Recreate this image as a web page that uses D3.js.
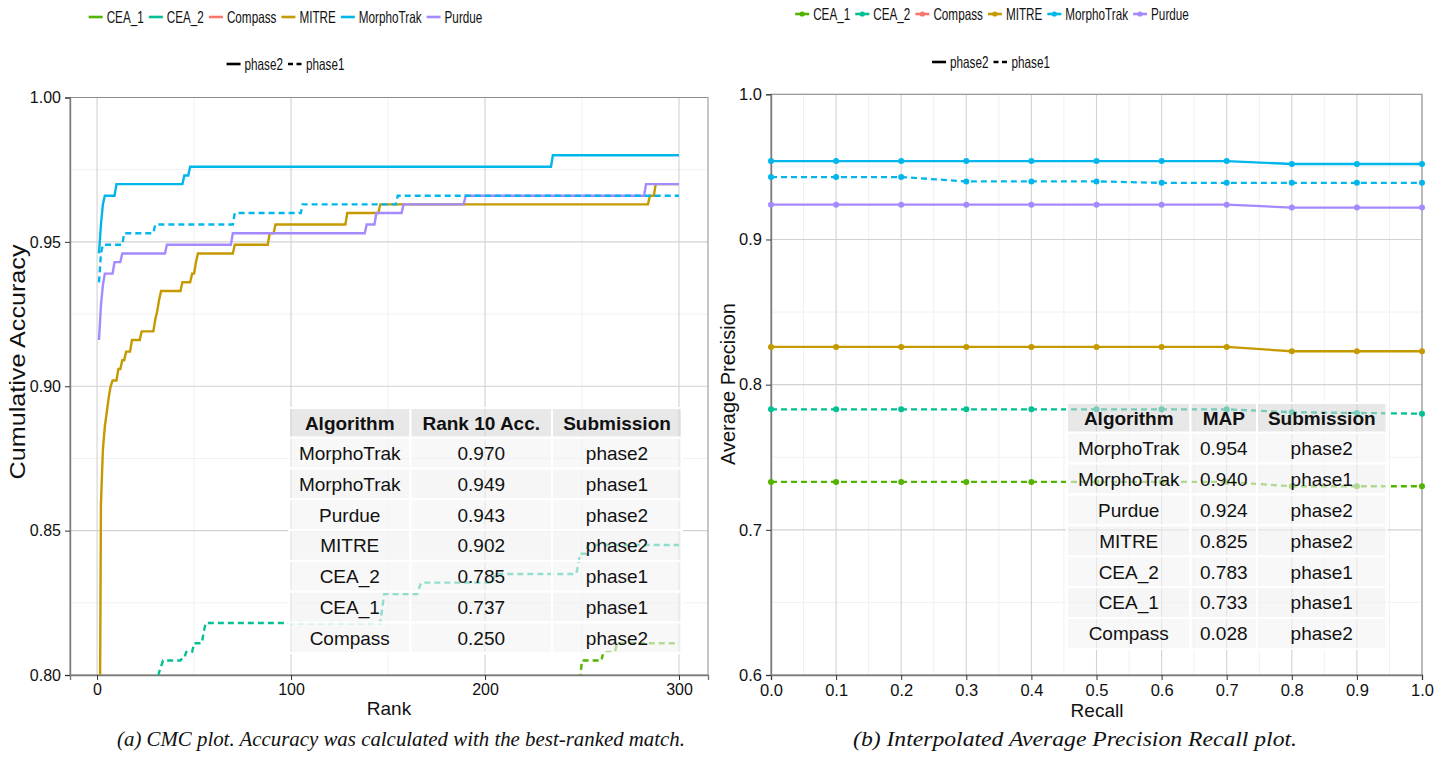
<!DOCTYPE html>
<html lang="en">
<head>
<meta charset="UTF-8">
<title>CMC and interpolated precision-recall</title>
<script src="https://cdn.jsdelivr.net/npm/d3@7/dist/d3.min.js"></script>
<style>
    body { margin: 0; background: #fff; }
    svg text { font-family: "Liberation Sans", Arial, Helvetica, sans-serif; fill: #111; }
    .grid-major line { stroke: #d2d2d2; stroke-width: 1.1px; }
    .grid-minor line { stroke: #f1f1f1; stroke-width: 1px; }
    .tick line { stroke: #333; }
    .caption { font-family: "Liberation Serif", "DejaVu Serif", serif; font-style: italic; }
</style>
</head>
<body>
<script>
    // legend groups
    const algorithms = ['CEA_1', 'CEA_2', 'Compass', 'MITRE', 'MorphoTrak', 'Purdue'];
    const algoColors = ['#53B400', '#00C094', '#F8766D', '#C49A00', '#00B6EB', '#A58AFF'];
    const phases = ['phase2', 'phase1'];

    // CMC: [rank, accuracy] where the curve changes value
    const cmcMorphoTrak2 = [[1, 0.946], [2, 0.956], [3, 0.963], [4, 0.966], [10, 0.970], [45, 0.973], [48, 0.976], [235, 0.980], [300, 0.980]];
    const cmcMorphoTrak1 = [[1, 0.936], [2, 0.946], [3, 0.949], [14, 0.953], [30, 0.956], [71, 0.960], [106, 0.963], [155, 0.966], [300, 0.966]];
    const cmcPurdue2 = [[1, 0.916], [2, 0.928], [3, 0.935], [4, 0.939], [9, 0.943], [13, 0.946], [36, 0.949], [70, 0.953], [139, 0.956], [144, 0.960], [158, 0.963], [190, 0.966], [283, 0.970], [300, 0.970]];
    const cmcMITRE2 = [[1, 0.720], [2, 0.859], [3, 0.878], [4, 0.886], [5, 0.891], [6, 0.896], [7, 0.900], [8, 0.902], [11, 0.906], [13, 0.909], [15, 0.912], [18, 0.916], [23, 0.919], [30, 0.923], [31, 0.926], [32, 0.930], [33, 0.933], [44, 0.936], [49, 0.939], [51, 0.943], [52, 0.946], [71, 0.949], [89, 0.953], [92, 0.956], [129, 0.960], [146, 0.963], [285, 0.966], [288, 0.970], [300, 0.970]];
    const cmcCEA2_1 = [[30, 0.797], [32, 0.801], [33, 0.803], [34, 0.805], [44, 0.806], [46, 0.808], [50, 0.811], [55, 0.815], [56, 0.818], [147, 0.823], [148, 0.828], [166, 0.830], [167, 0.832], [205, 0.835], [248, 0.838], [249, 0.842], [253, 0.845], [300, 0.845]];
    const cmcCEA1_1 = [[248, 0.799], [250, 0.805], [261, 0.808], [268, 0.811], [300, 0.811]];

    // interpolated average precision at each recall level
    const recall = [0.0, 0.1, 0.2, 0.3, 0.4, 0.5, 0.6, 0.7, 0.8, 0.9, 1.0];
    const apMorphoTrak2 = [0.954, 0.954, 0.954, 0.954, 0.954, 0.954, 0.954, 0.954, 0.952, 0.952, 0.952];
    const apMorphoTrak1 = [0.943, 0.943, 0.943, 0.940, 0.940, 0.940, 0.939, 0.939, 0.939, 0.939, 0.939];
    const apPurdue2 = [0.924, 0.924, 0.924, 0.924, 0.924, 0.924, 0.924, 0.924, 0.922, 0.922, 0.922];
    const apMITRE2 = [0.826, 0.826, 0.826, 0.826, 0.826, 0.826, 0.826, 0.826, 0.823, 0.823, 0.823];
    const apCEA2_1 = [0.783, 0.783, 0.783, 0.783, 0.783, 0.783, 0.783, 0.783, 0.781, 0.7805, 0.780];
    const apCEA1_1 = [0.733, 0.733, 0.733, 0.733, 0.733, 0.733, 0.733, 0.733, 0.730, 0.730, 0.730];

    // tables
    const tableAlgo = ['MorphoTrak', 'MorphoTrak', 'Purdue', 'MITRE', 'CEA_2', 'CEA_1', 'Compass'];
    const tableSub = ['phase2', 'phase1', 'phase2', 'phase2', 'phase1', 'phase1', 'phase2'];
    const rank10Acc = ['0.970', '0.949', '0.943', '0.902', '0.785', '0.737', '0.250'];
    const mapValues = ['0.954', '0.940', '0.924', '0.825', '0.783', '0.733', '0.028'];

    // ticks
    const cmcXTicks = [0, 100, 200, 300];
    const cmcYTicks = [0.80, 0.85, 0.90, 0.95, 1.00];
    const prXTicks = [0.0, 0.1, 0.2, 0.3, 0.4, 0.5, 0.6, 0.7, 0.8, 0.9, 1.0];
    const prYTicks = [0.6, 0.7, 0.8, 0.9, 1.0];

    const width = 1454, height = 762;
    const color = d3.scaleOrdinal(algorithms, algoColors);
    const dash = p => p === 'phase1' ? '6,4' : null;

    const svg = d3.select('body').append('svg')
        .attr('width', width)
        .attr('height', height);

    // a ggplot-like panel
    function panel(opts) {
        const x = d3.scaleLinear().domain(opts.xDomain).range(opts.xRange);
        const y = d3.scaleLinear().domain(opts.yDomain).range(opts.yRange);
        const g = svg.append('g');
        const [x0, x1] = opts.xRange, [y1, y0] = opts.yRange;

        g.append('g').attr('class', 'grid-minor').selectAll('line')
            .data(opts.xMinor).join('line')
            .attr('x1', d => x(d)).attr('x2', d => x(d)).attr('y1', y0).attr('y2', y1);
        g.append('g').attr('class', 'grid-minor').selectAll('line')
            .data(opts.yMinor).join('line')
            .attr('y1', d => y(d)).attr('y2', d => y(d)).attr('x1', x0).attr('x2', x1);
        g.append('g').attr('class', 'grid-major').selectAll('line')
            .data(opts.xTicks).join('line')
            .attr('x1', d => x(d)).attr('x2', d => x(d)).attr('y1', y0).attr('y2', y1);
        g.append('g').attr('class', 'grid-major').selectAll('line')
            .data(opts.yTicks).join('line')
            .attr('y1', d => y(d)).attr('y2', d => y(d)).attr('x1', x0).attr('x2', x1);

        g.append('rect')
            .attr('x', x0).attr('y', y0).attr('width', x1 - x0).attr('height', y1 - y0)
            .attr('fill', 'none').attr('stroke', '#8c8c8c').attr('stroke-width', 1);

        const xa = g.append('g').attr('transform', `translate(0,${y1})`)
            .call(d3.axisBottom(x).tickValues(opts.xTicks).tickFormat(opts.xFormat).tickSize(5).tickPadding(4));
        const ya = g.append('g').attr('transform', `translate(${x0},0)`)
            .call(d3.axisLeft(y).tickValues(opts.yTicks).tickFormat(opts.yFormat).tickSize(5).tickPadding(4));
        [xa, ya].forEach(a => {
            a.select('.domain').attr('stroke', '#7a7a7a').attr('stroke-width', 1.4);
            a.selectAll('text').style('font-size', opts.tickSize + 'px').attr('fill', '#111');
        });

        const clipId = opts.id + '-clip';
        svg.append('clipPath').attr('id', clipId).append('rect')
            .attr('x', x0).attr('y', y0).attr('width', x1 - x0).attr('height', y1 - y0);
        const marks = g.append('g').attr('clip-path', `url(#${clipId})`);
        return { x, y, g, marks };
    }

    // legend rows, text squeezed like the original
    function legend(cx, cy, items, withPoint) {
        const g = svg.append('g');
        const squeeze = 0.71, keyW = 14;
        let cursor = 0;
        const parts = items.map(it => {
            const t = g.append('text').text(it.label)
                .attr('y', cy).attr('dy', '0.36em').style('font-size', '16.5px');
            const w = t.node().getComputedTextLength() * squeeze;
            t.attr('textLength', w).attr('lengthAdjust', 'spacingAndGlyphs');
            const part = { it, t, keyX: cursor, textX: cursor + keyW + 4 };
            cursor += keyW + 4 + w + 5;
            return part;
        });
        const start = cx - (cursor - 5) / 2;
        parts.forEach(p => {
            g.append('line')
                .attr('x1', start + p.keyX).attr('x2', start + p.keyX + keyW)
                .attr('y1', cy).attr('y2', cy)
                .attr('stroke', p.it.color).attr('stroke-width', 2.6)
                .attr('stroke-dasharray', p.it.dash);
            if (withPoint && p.it.point) {
                g.append('circle').attr('cx', start + p.keyX + keyW / 2).attr('cy', cy)
                    .attr('r', 2.6).attr('fill', p.it.color);
            }
            p.t.attr('x', start + p.textX);
        });
    }

    function table(x0, y0, colW, headH, rowH, headers, cols) {
        const g = svg.append('g');
        const xs = colW.reduce((a, w) => a.concat(a[a.length - 1] + w), [x0]);
        headers.forEach((h, j) => {
            g.append('rect').attr('x', xs[j]).attr('y', y0).attr('width', colW[j]).attr('height', headH)
                .attr('fill', '#d6d6d6').attr('fill-opacity', 0.55)
                .attr('stroke', '#fff').attr('stroke-width', 2);
            g.append('text').text(h)
                .attr('x', xs[j] + colW[j] / 2).attr('y', y0 + headH / 2).attr('dy', '0.36em')
                .attr('text-anchor', 'middle').style('font-size', '19px').style('font-weight', 'bold');
        });
        cols[0].forEach((_, i) => {
            const ry = y0 + headH + i * rowH;
            cols.forEach((col, j) => {
                g.append('rect').attr('x', xs[j]).attr('y', ry).attr('width', colW[j]).attr('height', rowH)
                    .attr('fill', i % 2 ? '#f0f0f0' : '#f3f3f3').attr('fill-opacity', 0.6)
                    .attr('stroke', '#fff').attr('stroke-width', 2);
                g.append('text').text(col[i])
                    .attr('x', xs[j] + colW[j] / 2).attr('y', ry + rowH / 2).attr('dy', '0.36em')
                    .attr('text-anchor', 'middle').style('font-size', '19px');
            });
        });
    }

    // ---------- (a) CMC ----------
    const cmc = panel({
        id: 'cmc',
        xDomain: [1 - 14.95, 300 + 14.95], xRange: [70, 708],
        yDomain: [0.80, 1.00], yRange: [675, 97.5],
        xTicks: cmcXTicks, yTicks: cmcYTicks,
        xMinor: [50, 150, 250], yMinor: [0.825, 0.875, 0.925, 0.975],
        xFormat: d3.format('d'), yFormat: d3.format('.2f'), tickSize: 16
    });

    const cmcSeries = [
        { algo: 'CEA_1', phase: 'phase1', steps: cmcCEA1_1 },
        { algo: 'CEA_2', phase: 'phase1', steps: cmcCEA2_1 },
        { algo: 'MITRE', phase: 'phase2', steps: cmcMITRE2 },
        { algo: 'Purdue', phase: 'phase2', steps: cmcPurdue2 },
        { algo: 'MorphoTrak', phase: 'phase1', steps: cmcMorphoTrak1 },
        { algo: 'MorphoTrak', phase: 'phase2', steps: cmcMorphoTrak2 }
    ];

    // each change happens between rank r-1 and r
    function stepPoints(changes) {
        const pts = [changes[0]];
        for (let i = 1; i < changes.length; i++) {
            pts.push([changes[i][0] - 1, changes[i - 1][1]]);
            pts.push(changes[i]);
        }
        return pts;
    }

    const cmcLine = d3.line().x(d => cmc.x(d[0])).y(d => cmc.y(d[1]));
    cmc.marks.selectAll('path').data(cmcSeries).join('path')
        .attr('d', d => cmcLine(stepPoints(d.steps)))
        .attr('fill', 'none')
        .attr('stroke', d => color(d.algo))
        .attr('stroke-width', 2.4)
        .attr('stroke-dasharray', d => dash(d.phase));

    table(289, 408, [121.5, 141.5, 130], 29.7, 30.8,
        ['Algorithm', 'Rank 10 Acc.', 'Submission'], [tableAlgo, rank10Acc, tableSub]);

    // ---------- (b) precision / recall ----------
    const pr = panel({
        id: 'pr',
        xDomain: [0, 1], xRange: [771, 1422],
        yDomain: [0.6, 1.0], yRange: [675, 94.3],
        xTicks: prXTicks, yTicks: prYTicks,
        xMinor: d3.range(10).map(i => recall[i] + 0.05), yMinor: [0.65, 0.75, 0.85, 0.95],
        xFormat: d3.format('.1f'), yFormat: d3.format('.1f'), tickSize: 16.5
    });

    const prSeries = [
        { algo: 'CEA_1', phase: 'phase1', values: apCEA1_1 },
        { algo: 'CEA_2', phase: 'phase1', values: apCEA2_1 },
        { algo: 'MITRE', phase: 'phase2', values: apMITRE2 },
        { algo: 'Purdue', phase: 'phase2', values: apPurdue2 },
        { algo: 'MorphoTrak', phase: 'phase1', values: apMorphoTrak1 },
        { algo: 'MorphoTrak', phase: 'phase2', values: apMorphoTrak2 }
    ];

    const prLine = d3.line().x((d, i) => pr.x(recall[i])).y(d => pr.y(d));
    const prG = pr.g.append('g').selectAll('g').data(prSeries).join('g');
    prG.append('path')
        .attr('d', d => prLine(d.values))
        .attr('fill', 'none')
        .attr('stroke', d => color(d.algo))
        .attr('stroke-width', 2.3)
        .attr('stroke-dasharray', d => dash(d.phase));
    prG.selectAll('circle').data(d => d.values.map((v, i) => ({ v, i, algo: d.algo }))).join('circle')
        .attr('cx', d => pr.x(recall[d.i]))
        .attr('cy', d => pr.y(d.v))
        .attr('r', 3)
        .attr('fill', d => color(d.algo));

    table(1067, 403, [123.5, 66.5, 129.5], 29.7, 30.9,
        ['Algorithm', 'MAP', 'Submission'], [tableAlgo, mapValues, tableSub]);

    // ---------- legends ----------
    const algoItems = algorithms.map(a => ({ label: a, color: color(a), point: true }));
    const phaseItems = phases.map(p => ({ label: p, color: '#000', dash: dash(p) ? '5,3.5' : null }));
    legend(285.5, 17, algoItems, false);
    legend(285.5, 64, phaseItems, false);
    legend(992, 14, algoItems, true);
    legend(991, 62, phaseItems, false);

    // ---------- axis titles ----------
    svg.append('text').text('Rank').attr('x', 389).attr('y', 715)
        .attr('text-anchor', 'middle').style('font-size', '19px');
    svg.append('text').text('Recall').attr('x', 1097).attr('y', 717)
        .attr('text-anchor', 'middle').style('font-size', '19px');
    svg.append('text').text('Cumulative Accuracy')
        .attr('transform', 'translate(17,362) rotate(-90)')
        .attr('text-anchor', 'middle').attr('dy', '0.36em')
        .attr('textLength', 235).attr('lengthAdjust', 'spacingAndGlyphs')
        .style('font-size', '22px');
    svg.append('text').text('Average Precision')
        .attr('transform', 'translate(728,384) rotate(-90)')
        .attr('text-anchor', 'middle').attr('dy', '0.36em')
        .attr('textLength', 162).attr('lengthAdjust', 'spacingAndGlyphs')
        .style('font-size', '20px');

    // ---------- captions ----------
    svg.append('text').attr('class', 'caption')
        .text('(a) CMC plot. Accuracy was calculated with the best-ranked match.')
        .attr('x', 401).attr('y', 746).attr('text-anchor', 'middle')
        .attr('textLength', 568).attr('lengthAdjust', 'spacingAndGlyphs')
        .style('font-size', '20px');
    svg.append('text').attr('class', 'caption')
        .text('(b) Interpolated Average Precision Recall plot.')
        .attr('x', 1075).attr('y', 746).attr('text-anchor', 'middle')
        .attr('textLength', 444).attr('lengthAdjust', 'spacingAndGlyphs')
        .style('font-size', '20px');
</script>
</body>
</html>
